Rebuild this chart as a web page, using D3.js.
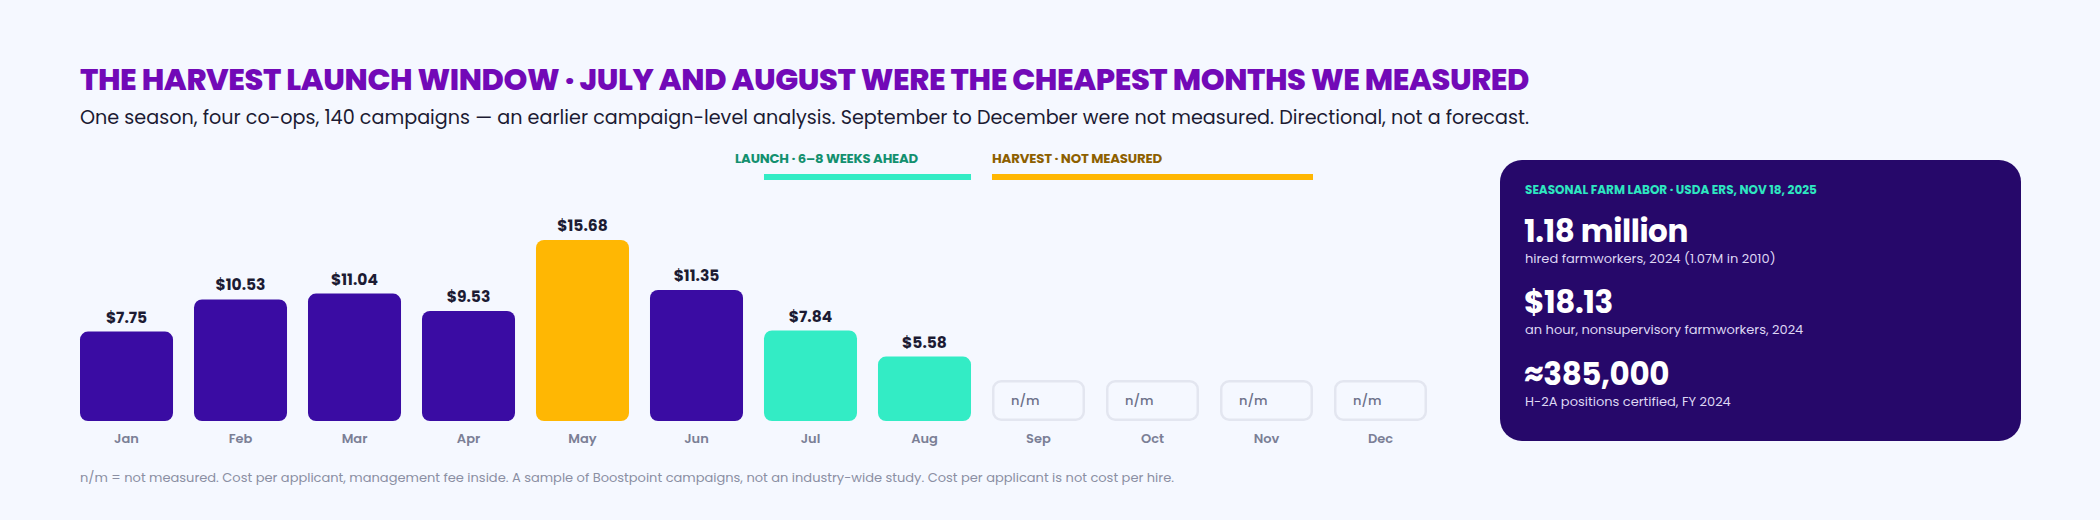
<!DOCTYPE html>
<html>
<head>
<meta charset="utf-8">
<script src="https://cdn.jsdelivr.net/npm/d3@7/dist/d3.min.js"></script>
<style>
  html, body { margin: 0; padding: 0; background: #f5f8ff; }
  svg { display: block; font-family: Poppins, Inter, "Noto Sans", sans-serif; }
</style>
</head>
<body>
<div id="chart"></div>
<script>
'use strict';

// data
const months = ["Jan", "Feb", "Mar", "Apr", "May", "Jun", "Jul", "Aug", "Sep", "Oct", "Nov", "Dec"];
const costPerApplicant = [7.75, 10.53, 11.04, 9.53, 15.68, 11.35, 7.84, 5.58, null, null, null, null];
const peakMonths = ["May"];
const launchMonths = ["Jul", "Aug"];
const harvestMonths = ["Sep", "Oct", "Nov"];

const cardSource = "SEASONAL FARM LABOR · USDA ERS, NOV 18, 2025";
const cardFigures = ["1.18 million", "$18.13", "≈385,000"];
const cardNotes = [
    "hired farmworkers, 2024 (1.07M in 2010)",
    "an hour, nonsupervisory farmworkers, 2024",
    "H-2A positions certified, FY 2024"
];

const title = "THE HARVEST LAUNCH WINDOW · JULY AND AUGUST WERE THE CHEAPEST MONTHS WE MEASURED";
const subtitle = "One season, four co-ops, 140 campaigns — an earlier campaign-level analysis. September to December were not measured. Directional, not a forecast.";
const footnote = "n/m = not measured. Cost per applicant, management fee inside. A sample of Boostpoint campaigns, not an industry-wide study. Cost per applicant is not cost per hire.";

const width = 2100, height = 520;
const colors = {
    bg: "#f5f8ff",
    purple: "#3a0ca3",
    gold: "#ffb703",
    teal: "#33ecc5",
    title: "#7209b7",
    ink: "#1c1b33",
    muted: "#7b7f96",
    card: "#26086a"
};

const svg = d3.select("#chart").append("svg")
    .attr("width", width)
    .attr("height", height);

svg.append("rect").attr("width", width).attr("height", height).attr("fill", colors.bg);

// squeeze or stretch a text to the width it has in the reference
function fit(sel, w){
    const len = sel.node().getComputedTextLength();
    if(Math.abs(len - w) > 2){
        sel.attr("textLength", w).attr("lengthAdjust", "spacingAndGlyphs");
    }
    return sel;
}

fit(svg.append("text")
    .attr("x", 80).attr("y", 90)
    .attr("font-size", 29).attr("font-weight", 800)
    .attr("letter-spacing", -0.4)
    .attr("fill", colors.title)
    .text(title), 1449);

fit(svg.append("text")
    .attr("x", 80).attr("y", 124)
    .attr("font-size", 19)
    .attr("fill", colors.ink)
    .text(subtitle), 1449);

// scales
const x = d3.scaleBand().domain(months).range([80, 1427]).paddingInner(0.184).paddingOuter(0);
const y = d3.scaleLinear().domain([0, d3.max(costPerApplicant)]).range([421, 240]);

// season bands above the bars
const bands = [
    {label: "LAUNCH · 6–8 WEEKS AHEAD", months: launchMonths, color: colors.teal, text: "#13906f", lx: 735, w: 183},
    {label: "HARVEST · NOT MEASURED", months: harvestMonths, color: colors.gold, text: "#8d5f00", lx: 992, w: 170}
];
for(let b of bands){
    const x0 = x(b.months[0]);
    const x1 = x(b.months[b.months.length - 1]) + x.bandwidth();
    svg.append("rect")
        .attr("x", x0).attr("y", 174)
        .attr("width", x1 - x0).attr("height", 6)
        .attr("fill", b.color);
    fit(svg.append("text")
        .attr("x", b.lx).attr("y", 163)
        .attr("font-size", 13).attr("font-weight", 700)
        .attr("letter-spacing", -0.2)
        .attr("fill", b.text)
        .text(b.label), b.w);
}

const rows = months.map((m, i) => ({month: m, value: costPerApplicant[i]}));
const measured = rows.filter(d => d.value !== null);
const missing = rows.filter(d => d.value === null);

function barColor(m){
    if(peakMonths.includes(m)) return colors.gold;
    if(launchMonths.includes(m)) return colors.teal;
    return colors.purple;
}

const g = svg.append("g").attr("class", "bars");

g.selectAll("rect.bar")
    .data(measured)
    .join("rect")
    .attr("class", "bar")
    .attr("x", d => x(d.month))
    .attr("y", d => y(d.value))
    .attr("width", x.bandwidth())
    .attr("height", d => y(0) - y(d.value))
    .attr("rx", 8)
    .attr("fill", d => barColor(d.month));

g.selectAll("text.val")
    .data(measured)
    .join("text")
    .attr("class", "val")
    .attr("x", d => x(d.month) + x.bandwidth() / 2)
    .attr("y", d => y(d.value) - 9)
    .attr("text-anchor", "middle")
    .attr("font-size", 15.5).attr("font-weight", 700)
    .attr("fill", colors.ink)
    .text(d => "$" + d3.format(".2f")(d.value));

// not measured placeholders
g.selectAll("rect.nm")
    .data(missing)
    .join("rect")
    .attr("class", "nm")
    .attr("x", d => x(d.month) + 1.25)
    .attr("y", 381.25)
    .attr("width", x.bandwidth() - 2.5)
    .attr("height", 38.5)
    .attr("rx", 8)
    .attr("fill", colors.bg)
    .attr("stroke", "#e3e6f0")
    .attr("stroke-width", 2.5);

g.selectAll("text.nm")
    .data(missing)
    .join("text")
    .attr("class", "nm")
    .attr("x", d => x(d.month) + 19)
    .attr("y", 405)
    .attr("font-size", 13).attr("font-weight", 500)
    .attr("fill", "#6d718a")
    .text("n/m");

// month axis
const axis = svg.append("g")
    .attr("transform", `translate(0,${y(0)})`)
    .call(d3.axisBottom(x).tickSize(0));
axis.select(".domain").remove();
axis.selectAll("text")
    .attr("y", 22).attr("dy", 0)
    .attr("font-family", "Poppins, Inter, 'Noto Sans', sans-serif")
    .attr("font-size", 13).attr("font-weight", 600)
    .attr("fill", colors.muted);

fit(svg.append("text")
    .attr("x", 80).attr("y", 482)
    .attr("font-size", 13)
    .attr("fill", "#8b8fa3")
    .text(footnote), 1093);

// side card
const card = svg.append("g").attr("class", "card");
card.append("rect")
    .attr("x", 1500).attr("y", 160)
    .attr("width", 521).attr("height", 281)
    .attr("rx", 22)
    .attr("fill", colors.card);

fit(card.append("text")
    .attr("x", 1525).attr("y", 194)
    .attr("font-size", 12).attr("font-weight", 700)
    .attr("fill", "#2ee6c0")
    .text(cardSource), 290);

const figureY = [242, 313, 385];
cardFigures.forEach((f, i) => {
    card.append("text")
        .attr("x", 1524).attr("y", figureY[i])
        .attr("font-size", 31).attr("font-weight", 700)
        .attr("letter-spacing", -0.4)
        .attr("fill", "#ffffff")
        .text(f);
    card.append("text")
        .attr("x", 1525).attr("y", figureY[i] + 21)
        .attr("font-size", 13)
        .attr("fill", "#ddd6f3")
        .text(cardNotes[i]);
});
</script>
</body>
</html>
